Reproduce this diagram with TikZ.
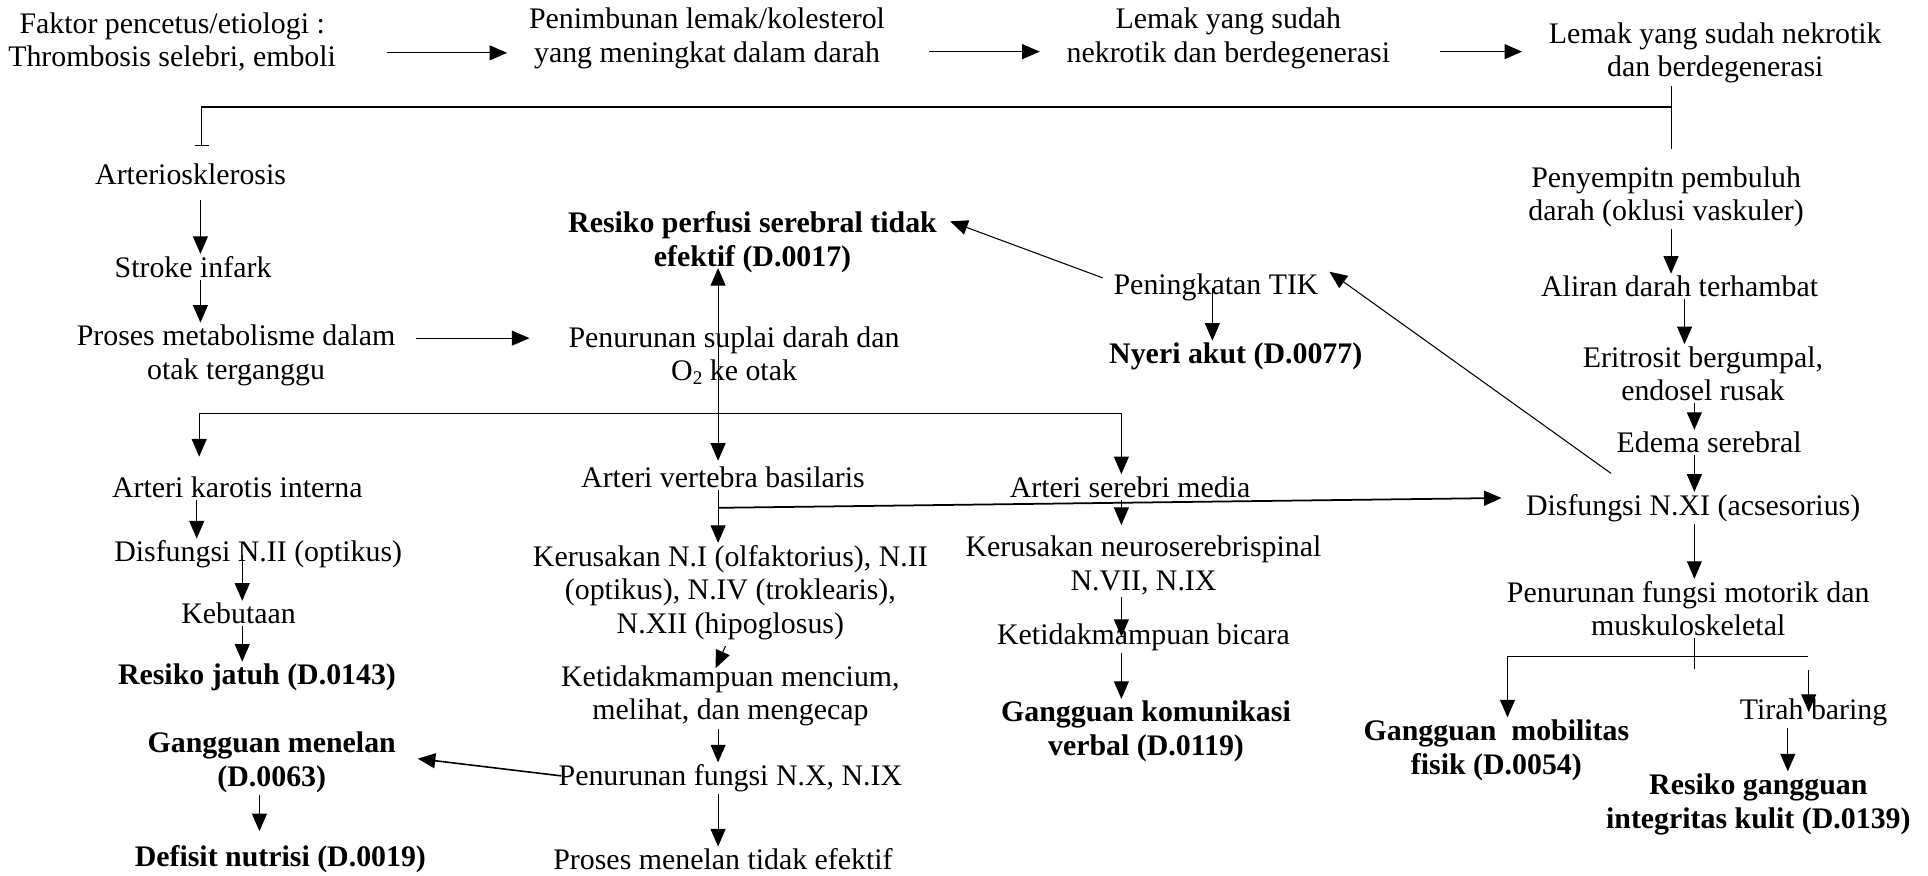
\documentclass[tikz,border=0pt]{standalone}
\usepackage{fontspec}
\setmainfont{Liberation Serif}
\usetikzlibrary{arrows.meta}

\begin{document}
\begin{tikzpicture}[->,>={Triangle[length=10pt,width=8.5pt]},x=0.0246cm,y=-0.0246cm,line width=0.6pt,
  txt node/.style={align=center,inner sep=1pt,font=\fontsize{17}{19.2}\selectfont},
  diag node/.style={txt node,font=\fontsize{17}{19.2}\selectfont\bfseries}]
\useasboundingbox (0,0) rectangle (1568,712);

  \node[txt node] (faktor) at (140,34) {Faktor pencetus/etiologi :\\Thrombosis selebri, emboli};
  \node[txt node] (timbun) at (575,31) {Penimbunan lemak/kolesterol\\yang meningkat dalam darah};
  \node[txt node] (lemakA) at (999,31) {Lemak yang sudah\\nekrotik dan berdegenerasi};
  \node[txt node] (lemakB) at (1395,43) {Lemak yang sudah nekrotik\\dan berdegenerasi};

  \node[txt node] (arterio) at (155,142) {Arteriosklerosis};
  \node[txt node] (stroke) at (157,217) {Stroke infark};
  \node[txt node] (proses) at (192,289) {Proses metabolisme dalam\\otak terganggu};
  \node[txt node] (suplai) at (597,289) {Penurunan suplai darah dan\\O\raisebox{-2pt}{\fontsize{11}{11}\selectfont 2} ke otak};
  \node[diag node] (perfusi) at (612,197) {Resiko perfusi serebral tidak\\efektif (D.0017)};
  \node[txt node] (tik) at (989,234) {Peningkatan TIK};
  \node[diag node] (nyeri) at (1005,290) {Nyeri akut (D.0077)};

  \node[txt node] (sempit) at (1355,160) {Penyempitn pembuluh\\darah (oklusi vaskuler)};
  \node[txt node] (aliran) at (1366,233) {Aliran darah terhambat};
  \node[txt node] (eritrosit) at (1385,304) {Eritrosit bergumpal,\\endosel rusak};
  \node[txt node] (edema) at (1390,360) {Edema serebral};
  \node[txt node] (nXI) at (1377,413) {Disfungsi N.XI (acsesorius)};
  \node[txt node] (motorik) at (1373,495) {Penurunan fungsi motorik dan\\muskuloskeletal};
  \node[txt node] (tirah) at (1475,579) {Tirah baring};
  \node[diag node] (mobilitas) at (1217,610) {Gangguan~ mobilitas\\fisik (D.0054)};
  \node[diag node] (kulit) at (1430,654) {Resiko gangguan\\integritas kulit (D.0139)};

  \node[txt node] (karotis) at (193,396) {Arteri karotis interna};
  \node[txt node] (nII) at (210,451) {Disfungsi N.II (optikus)};
  \node[txt node] (buta) at (194,499) {Kebutaan};
  \node[diag node] (jatuh) at (209,551) {Resiko jatuh (D.0143)};
  \node[diag node] (menelan) at (221,620) {Gangguan menelan\\(D.0063)};
  \node[diag node] (defisit) at (228,699) {Defisit nutrisi (D.0019)};

  \node[txt node] (vertebra) at (588,388) {Arteri vertebra basilaris};
  \node[txt node] (kerusakan) at (594,482) {Kerusakan N.I (olfaktorius), N.II\\(optikus), N.IV (troklearis),\\N.XII (hipoglosus)};
  \node[txt node] (tidakmampu) at (594,566) {Ketidakmampuan mencium,\\melihat, dan mengecap};
  \node[txt node] (nX) at (594,633) {Penurunan fungsi N.X, N.IX};
  \node[txt node] (telan) at (588,699) {Proses menelan tidak efektif};

  \node[txt node] (media) at (919,396) {Arteri serebri media};
  \node[txt node] (neuro) at (930,460) {Kerusakan neuroserebrispinal\\N.VII, N.IX};
  \node[txt node] (bicara) at (930,518) {Ketidakmampuan bicara};
  \node[diag node] (komunikasi) at (932,595) {Gangguan komunikasi\\verbal (D.0119)};

  \coordinate (kink) at (1359,87);
  \coordinate (stemEnd) at (1359,121);
  \coordinate (jL) at (162,336);
  \coordinate (jM) at (584,336);
  \coordinate (jR) at (912,336);
  \coordinate (vtap) at (584,413);
  \coordinate (mStem) at (1378,544);
  \coordinate (mL) at (1226,534);
  \coordinate (mR) at (1470,534);
  \coordinate (tTop) at (1471,545);

  \draw ([shift={(40,9)}]faktor.east) -- ([shift={(-16,12)}]timbun.west);
  \draw ([shift={(34,11)}]timbun.east) -- ([shift={(-20,11)}]lemakA.west);
  \draw ([shift={(39,11)}]lemakA.east) -- ([shift={(-20,-1)}]lemakB.west);
  \draw[-] (lemakB.south -| kink) -- (stemEnd);
  \draw[-{Bar[width=8pt]}] (kink) -| ([shift={(9,-13)}]arterio.north);

  \draw[shorten <=7pt] (arterio.south -| 163,0) -- (stroke.north -| 163,0);
  \draw (stroke.south -| 163,0) -- (proses.north -| 163,0);
  \draw ([shift={(15,-14)}]proses.east) -- ([shift={(-30,-14)}]suplai.west);

  \draw[-] (jL) -- (jR);
  \draw[shorten >=-4pt] (jM) -- (perfusi.south -| jM);
  \draw[shorten >=10pt] (jL) -- (karotis.north -| jL);
  \draw[shorten >=2pt] (jM) -- (vertebra.north -| jM);
  \draw (jR) -- (media.north -| jR);

  \draw (karotis.south -| 160,0) -- (nII.north -| 160,0);
  \draw (nII.center -| 197,0) -- (buta.north -| 197,0);
  \draw (buta.south -| 197,0) -- (jatuh.north -| 197,0);
  \draw[shorten >=7pt] (menelan.south -| 211,0) -- (defisit.north -| 211,0);

  \draw (vertebra.south -| jM) -- (kerusakan.north -| jM);
  \draw[line width=1pt] (vtap) -- ([shift={(-18,-8)}]nXI.west);
  \draw ([shift={(-4,3)}]kerusakan.south) -- ([shift={(-12,4)}]tidakmampu.north);
  \draw (tidakmampu.south -| jM) -- (nX.north -| jM);
  \draw[line width=0.9pt] ([shift={(4,-2)}]nX.west) -- ([shift={(16,-3)}]menelan.east);
  \draw (nX.south -| jM) -- (telan.north -| jM);

  \draw[shorten >=5pt] (media.south -| jR) -- (neuro.north -| jR);
  \draw (neuro.south -| jR) -- (bicara.center -| jR);
  \draw (bicara.south -| jR) -- (komunikasi.north -| jR);

  \draw (tik.center -| 986,0) -- (nyeri.north -| 986,0);
  \draw ([shift={(-7,-8)}]tik.west) -- ([shift={(9,-17)}]perfusi.east);
  \draw ([shift={(71,-15)}]nXI.north west) -- ([shift={(7,-13)}]tik.east);

  \draw (sempit.south -| kink) -- (aliran.north -| kink);
  \draw (aliran.south -| 1370,0) -- (eritrosit.north -| 1370,0);
  \draw (eritrosit.south -| mStem) -- (edema.north -| mStem);
  \draw (edema.south -| mStem) -- (nXI.north -| mStem);
  \draw (nXI.south -| mStem) -- (motorik.north -| mStem);
  \draw[-] (motorik.south -| mStem) -- (mStem);
  \draw[-] (mL) -- (mR);
  \draw (mL) -- (mobilitas.north -| mL);
  \draw (tTop) -- (tirah.center -| tTop);
  \draw (tirah.south -| 1454,0) -- (kulit.north -| 1454,0);
\end{tikzpicture}
\end{document}
